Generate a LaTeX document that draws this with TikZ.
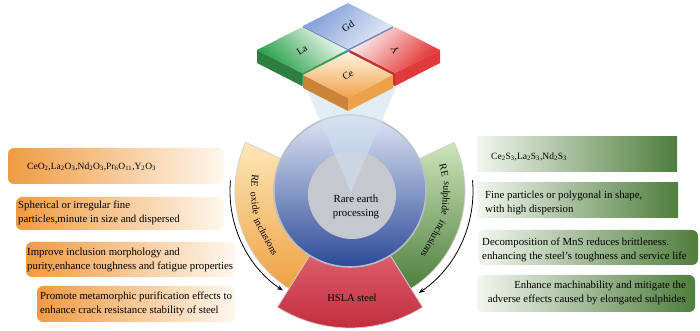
\documentclass[tikz,border=0pt]{standalone}
\usepackage{fontspec}
\setmainfont{Liberation Serif}
\usetikzlibrary{arrows.meta}
\definecolor{orgD}{HTML}{EF9B42}
\definecolor{orgL}{HTML}{FEF7EE}
\definecolor{grnD}{HTML}{4F7E3D}
\definecolor{grnL}{HTML}{F2F6EF}
\definecolor{secOa}{HTML}{FCE7B8}
\definecolor{secOb}{HTML}{EFA041}
\definecolor{secGa}{HTML}{CFE4BB}
\definecolor{secGb}{HTML}{4B7E3C}
\definecolor{secRa}{HTML}{DC5F6D}
\definecolor{secRb}{HTML}{C0283A}
\definecolor{bluA}{HTML}{DFE6F4}
\definecolor{bluB}{HTML}{2C4A98}
\definecolor{gry}{HTML}{C6C8CF}
\definecolor{rim}{HTML}{B9BDC8}
\definecolor{conec}{HTML}{CFE0EF}
\definecolor{gdA}{HTML}{7F9CD6}
\definecolor{gdB}{HTML}{E6ECF8}
\definecolor{gdS}{HTML}{6F8BC2}
\definecolor{laA}{HTML}{F4F9F1}
\definecolor{laB}{HTML}{1F9D45}
\definecolor{laSa}{HTML}{2E7E3F}
\definecolor{laSb}{HTML}{3E9A55}
\definecolor{yA}{HTML}{FBEFEF}
\definecolor{yB}{HTML}{E32B2B}
\definecolor{ySa}{HTML}{C03030}
\definecolor{ySb}{HTML}{E03A3A}
\definecolor{ceA}{HTML}{FEF3E2}
\definecolor{ceB}{HTML}{F1A24A}
\definecolor{ceSa}{HTML}{C9843A}
\definecolor{ceSb}{HTML}{EDA14B}
\newcommand{\retile}[7]{%
  \fill[#4] ({#1-45},{#2-23}) -- (#1,{#2-46}) -- (#1,{#2-59}) -- ({#1-45},{#2-36}) -- cycle;
  \fill[#5] (#1,{#2-46}) -- ({#1+45},{#2-23}) -- ({#1+45},{#2-36}) -- (#1,{#2-59}) -- cycle;
  \path[#3] (#1,#2) -- ({#1+45},{#2-23}) -- (#1,{#2-46}) -- ({#1-45},{#2-23}) -- cycle;
  \node[tlab,rotate=#7] (tile#6) at (#1,{#2-23}) {#6};}
\begin{document}
\begin{tikzpicture}[x=1pt,y=1pt,
  lbox/.style={rounded corners=6pt,left color=orgD,right color=orgL},
  rbox/.style={left color=grnL,right color=grnD},
  btxt/.style={font=\fontsize{10.8}{14.5}\selectfont,inner sep=0pt,align=left,anchor=west},
  ftxt/.style={font=\fontsize{9.5}{12}\selectfont,inner sep=0pt,anchor=west},
  arcword/.style={font=\fontsize{10}{12}\selectfont,inner sep=0pt,anchor=base},
  secline/.style={draw=white!82!black,line width=0.8pt},
  arcarrow/.style={draw=black,line width=0.8pt,-{Stealth[length=6pt,width=4.5pt]}},
  tlab/.style={font=\fontsize{10}{11}\selectfont,inner sep=0pt}]
\useasboundingbox (0,0) rectangle (700,331);
\fill[white] (0,0) rectangle (700,331);
% left boxes
\path[lbox] (8,147) rectangle (224,183);
\path[lbox] (16,101) rectangle (224,134);
\path[lbox] (26,54) rectangle (235,89);
\path[lbox] (37,9) rectangle (235,45);
\node[ftxt] (l1) at (27,164) {CeO\textsubscript{2},La\textsubscript{2}O\textsubscript{3},Nd\textsubscript{2}O\textsubscript{3},Pr\textsubscript{6}O\textsubscript{11},Y\textsubscript{2}O\textsubscript{3}};
\node[btxt] (l2) at (18,118) {Spherical or irregular fine\\particles,minute in size and dispersed};
\node[btxt] (l3) at (27,71) {Improve inclusion morphology and\\purity,enhance toughness and fatigue properties};
\node[btxt] (l4) at (40,27) {Promote metamorphic purification effects to\\enhance crack resistance stability of steel};
% right boxes
\path[rbox] (477,159) rectangle (677,194);
\path[rbox] (477,113) rectangle (678,148);
\path[rbox,rounded corners=6pt] (478,66) rectangle (698,101);
\path[rbox,rounded corners=6pt] (477,19) rectangle (695,56);
\node[ftxt] (r1) at (491,174) {Ce\textsubscript{2}S\textsubscript{3},La\textsubscript{2}S\textsubscript{3},Nd\textsubscript{2}S\textsubscript{3}};
\node[btxt] (r2) at (485,128) {Fine particles or polygonal in shape,\\with high dispersion};
\node[btxt] (r3) at (482,81) {Decomposition of MnS reduces brittleness.\\enhancing the steel's toughness and service life};
\node[btxt,anchor=east,align=right] (r4) at (686,38) {Enhance machinability and mitigate the\\adverse effects caused by elongated sulphides};
% central diagram
\begin{scope}[shift={(350,140)}]
  \coordinate (ctr) at (0,0);
  \path[secline,top color=secOa,bottom color=secOb] (155:115) arc[start angle=155,end angle=240,radius=115] -- (240:74) arc[start angle=240,end angle=155,radius=74] -- cycle;
  \path[secline,top color=secGa,bottom color=secGb] (-60:115) arc[start angle=-60,end angle=25,radius=115] -- (25:74) arc[start angle=25,end angle=-60,radius=74] -- cycle;
  \path[secline,top color=secRa,bottom color=secRb] (-122:137) arc[start angle=-122,end angle=-58,radius=137] -- (-58:74) arc[start angle=-58,end angle=-122,radius=74] -- cycle;
  \path[draw=rim,line width=1.6pt,top color=bluA,bottom color=bluB] (ctr) circle[radius=76];
  \fill[gry] (2,-4) circle[radius=44];
  \fill[conec,opacity=0.6] (-52,122) -- (54,122) -- (1,-1) -- cycle;
  \coordinate (a1) at (175:120);
  \coordinate (a2) at (5:123);
  \draw[arcarrow] (a1) arc[start angle=175,end angle=236,radius=120];
  \draw[arcarrow] (a2) arc[start angle=5,end angle=-56,radius=123];
  % curved sector labels, word by word
  \node[arcword,rotate=264] (ox1) at (174:99) {RE};
  \node[arcword,rotate=277.5] (ox2) at (187.5:99) {oxide};
  \node[arcword,rotate=298.5] (ox3) at (208.5:99) {inclusions};
  \node[arcword,rotate=-77.5] (su1) at (12.5:93) {RE};
  \node[arcword,rotate=-94.4] (su2) at (-4.4:93) {sulphide};
  \node[arcword,rotate=-120] (su3) at (-30:93) {inclusions};
  \node[font=\fontsize{10.8}{13.5}\selectfont,align=center] (core) at (6,-16) {Rare earth\\processing};
  \node[font=\fontsize{10.5}{12}\selectfont] (hsla) at (2,-107) {HSLA steel};
\end{scope}
% tiles
\retile{348}{328}{top color=gdA,bottom color=gdB,shading angle=45}{gdS}{gdS}{Gd}{33}
\retile{302}{304}{top color=laA,bottom color=laB,shading angle=-45}{laSa}{laSb}{La}{33}
\retile{395}{304}{top color=yA,bottom color=yB,shading angle=45}{ySa}{ySb}{Y}{120}
\retile{348}{279}{top color=ceA,bottom color=ceB}{ceSa}{ceSb}{Ce}{33}
\end{tikzpicture}
\end{document}
